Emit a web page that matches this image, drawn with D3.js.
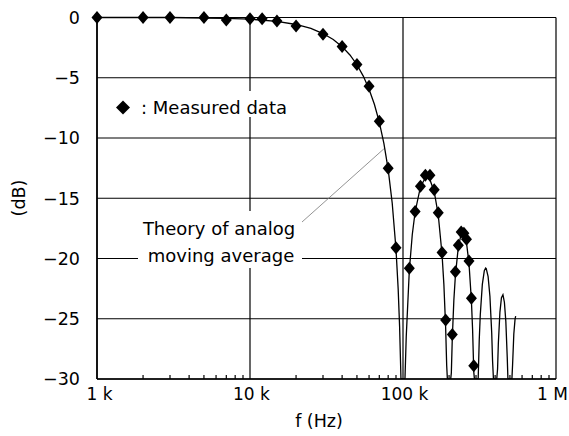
<!DOCTYPE html>
<html><head><meta charset="utf-8">
<script src="https://cdn.jsdelivr.net/npm/d3@7"></script>
<style>
html,body{margin:0;padding:0;background:#fff;}
svg{display:block;}
text{font-family:"DejaVu Sans",sans-serif;fill:#000;}
</style></head>
<body>
<svg id="chart" width="569" height="436"></svg>
<script>
// ---- data (frequencies in kHz, levels in dB) ----
const measuredFreq = [1, 2, 3, 5, 7, 10, 12, 15, 20, 30, 40, 50, 60, 70, 80, 90, 110, 120, 130, 140, 150, 160, 170, 180, 190, 210, 220, 230, 240, 250, 260, 270, 280, 290];
const measuredDb   = [0, 0, 0, 0, -0.2, -0.1, -0.1, -0.3, -0.7, -1.4, -2.4, -3.9, -5.7, -8.6, -12.5, -19.1, -20.8, -16.1, -14.0, -13.1, -13.1, -14.3, -16.2, -19.5, -25.1, -26.3, -21.1, -18.9, -17.8, -17.9, -18.4, -20.2, -23.3, -28.9];

const theoryFreq = [1, 3, 5, 7, 10, 15, 20, 25, 30, 35, 40, 45, 50, 55, 60, 65, 70, 75, 80, 85, 90, 93, 95, 97, 103, 105, 110, 115, 120, 130, 140, 143, 150, 160, 170, 180, 185, 190, 193, 195, 205, 207, 210, 215, 220, 230, 240, 246, 250, 260, 270, 280, 285, 290, 293, 307, 310, 315, 320, 330, 340, 347, 350, 360, 370, 380, 385, 390, 410, 415, 420, 430, 440, 450, 460, 470, 480, 485, 515, 520, 530, 540, 545];
const theoryDb   = [0, 0, -0.04, -0.07, -0.14, -0.32, -0.58, -0.91, -1.33, -1.83, -2.42, -3.11, -3.92, -4.86, -5.95, -7.2, -8.68, -10.45, -12.6, -15.39, -19.23, -22.54, -25.61, -30, -30, -26.48, -20.97, -18.01, -16.14, -14.06, -13.3, -13.26, -13.46, -14.46, -16.39, -19.67, -22.15, -25.72, -28.88, -30, -30, -29.49, -26.59, -23.45, -21.41, -19.02, -17.98, -17.83, -17.9, -18.68, -20.41, -23.5, -25.9, -29.39, -30, -30, -29.97, -26.77, -24.66, -22.15, -21.01, -20.79, -20.83, -21.5, -23.15, -26.16, -28.51, -30, -30, -29.17, -27.02, -24.45, -23.25, -23.01, -23.63, -25.22, -28.18, -30, -30, -28.88, -26.27, -25.03, -24.78];

const yTicks = [0, -5, -10, -15, -20, -25, -30];
const xMajorTicks = [1, 10, 100, 1000];
const xTickLabels = ["1 k", "10 k", "100 k", "1 M"];
const xMinorTicks = [2,3,4,5,6,7,8,9,20,30,40,50,60,70,80,90,200,300,400,500,600,700,800,900];

// ---- layout ----
const L = 97, R = 556, T = 17.5, B = 379;
const svg = d3.select("#chart");
const x = d3.scaleLog().domain([1, 1000]).range([L, R]);
const y = d3.scaleLinear().domain([-30, 0]).range([B, T]);

const fmtY = v => v === 0 ? "0" : "\u2212" + Math.abs(v);

// grid
const g = svg.append("g");
g.selectAll(".hg").data(yTicks).join("line")
  .attr("x1", L).attr("x2", R)
  .attr("y1", d => y(d)).attr("y2", d => y(d))
  .attr("stroke", "#000").attr("stroke-width", 1.2);
g.selectAll(".vg").data(xMajorTicks).join("line")
  .attr("x1", d => x(d)).attr("x2", d => x(d))
  .attr("y1", T).attr("y2", B)
  .attr("stroke", "#000").attr("stroke-width", 1.2);
// minor ticks along bottom (inside)
g.selectAll(".mt").data(xMinorTicks).join("line")
  .attr("x1", d => x(d)).attr("x2", d => x(d))
  .attr("y1", B).attr("y2", B - 4)
  .attr("stroke", "#000").attr("stroke-width", 1.2);
// axes lines
g.append("line").attr("x1", L).attr("x2", L).attr("y1", T).attr("y2", B).attr("stroke", "#000").attr("stroke-width", 1.6);
g.append("line").attr("x1", L).attr("x2", R).attr("y1", B).attr("y2", B).attr("stroke", "#000").attr("stroke-width", 1.6);

// white boxes behind annotation texts
svg.append("rect").attr("x", 112).attr("y", 91).attr("width", 182).attr("height", 26).attr("fill", "#fff");
svg.append("rect").attr("x", 138).attr("y", 211).attr("width", 164).attr("height", 57).attr("fill", "#fff");

// theory curve
svg.append("defs").append("clipPath").attr("id", "clip")
  .append("rect").attr("x", L).attr("y", T - 2).attr("width", R - L).attr("height", B - T + 2);
const theory = theoryFreq.map((f, i) => [f, theoryDb[i]]);
const line = d3.line().x(d => x(d[0])).y(d => y(d[1]));
svg.append("path").datum(theory)
  .attr("d", line).attr("fill", "none")
  .attr("stroke", "#000").attr("stroke-width", 1.3)
  .attr("clip-path", "url(#clip)");

// leader line
svg.append("line").attr("x1", 302).attr("y1", 222).attr("x2", x(75)).attr("y2", y(-10.9))
  .attr("stroke", "#777").attr("stroke-width", 0.8);

// measured markers
const diamond = "M0,-6.5L5.5,0L0,6.5L-5.5,0Z";
const measured = measuredFreq.map((f, i) => [f, measuredDb[i]]);
svg.selectAll(".m").data(measured).join("path")
  .attr("d", diamond)
  .attr("transform", d => `translate(${x(d[0])},${y(d[1])})`)
  .attr("fill", "#000");

// y tick labels
svg.selectAll(".yl").data(yTicks).join("text")
  .attr("x", 80).attr("y", d => y(d))
  .attr("dy", "0.36em").attr("text-anchor", "end")
  .attr("font-size", 17.5).text(fmtY);

// x tick labels
svg.selectAll(".xl").data(xMajorTicks).join("text")
  .attr("x", (d, i) => i === 3 ? 568 : x(d) + (i === 0 ? 2.5 : 1.5))
  .attr("y", 400)
  .attr("text-anchor", (d, i) => i === 3 ? "end" : "middle")
  .attr("font-size", 17).text((d, i) => xTickLabels[i]);

// axis titles
svg.append("text").attr("x", 319).attr("y", 427).attr("text-anchor", "middle")
  .attr("font-size", 17.5).text("f (Hz)");
svg.append("text").attr("transform", "translate(25,198) rotate(-90)")
  .attr("text-anchor", "middle").attr("font-size", 17.5).text("(dB)");

// legend
svg.append("path").attr("d", "M0,-7L7,0L0,7L-7,0Z")
  .attr("transform", "translate(123,107.5)").attr("fill", "#000");
svg.append("text").attr("x", 141).attr("y", 114).attr("font-size", 18).text(": Measured data");

// annotation
svg.append("text").attr("x", 219).attr("y", 235).attr("text-anchor", "middle")
  .attr("font-size", 18).text("Theory of analog");
svg.append("text").attr("x", 221).attr("y", 262).attr("text-anchor", "middle")
  .attr("font-size", 18).text("moving average");
</script>
</body></html>
